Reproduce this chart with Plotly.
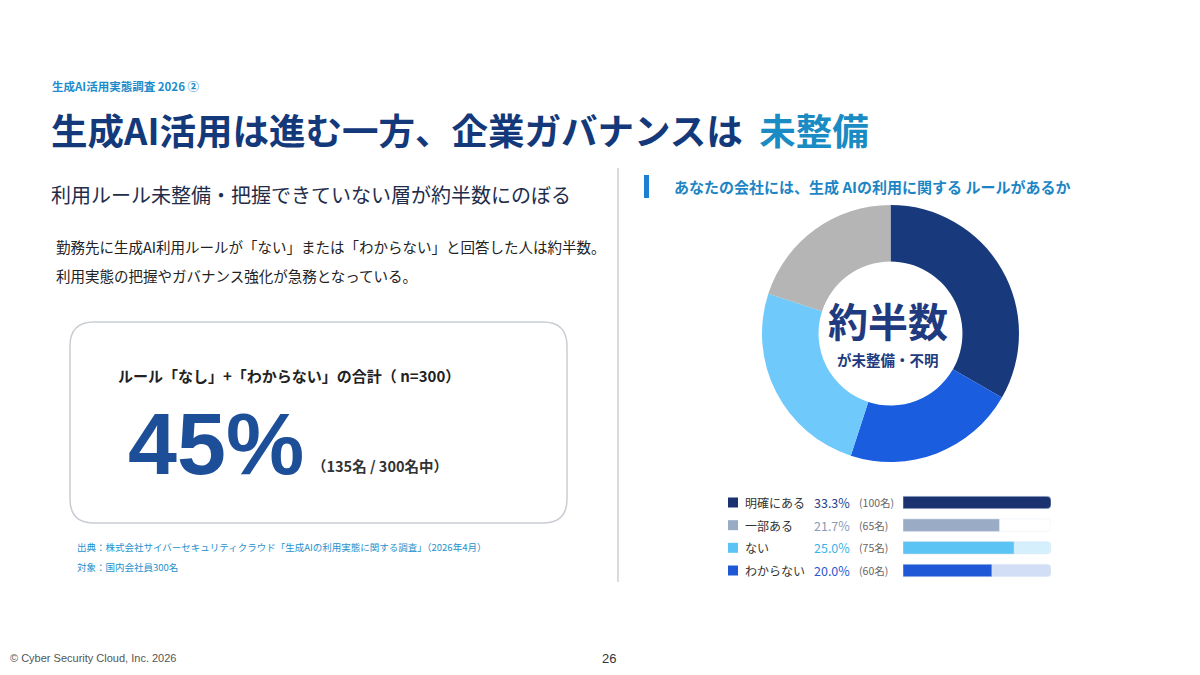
import plotly.graph_objects as go

# page body has an 8px margin, so the figure is 8px smaller and coordinates are shifted
OFF = 8
W, H = 1200 - OFF, 675 - OFF

# --- data ---
labels = ["明確にある", "一部ある", "ない", "わからない"]
pct = [33.3, 21.7, 25.0, 20.0]
counts = [100, 65, 75, 60]
pct_text = ["33.3%", "21.7%", "25.0%", "20.0%"]
count_text = ["(100名)", "(65名)", "(75名)", "(60名)"]

donut_colors = ["#183a7c", "#1a5ddf", "#6fc9fa", "#b5b5b5"]
legend_colors = ["#1a3370", "#9aabc6", "#5bc4f4", "#1f58d6"]
track_colors = ["#dfe5f0", "rgba(0,0,0,0)", "#d5effc", "#d2def5"]
pct_colors = ["#2b3f8c", "#8d9bb5", "#36b4ea", "#2b59d0"]

total_pct = 45
total_n = 135
n = 300

JP = "Noto Sans CJK JP"
AR = "Liberation Sans, Arial"


def px(x):
    return (x - OFF) / W


def py(y):
    return 1 - (y - OFF) / H


fig = go.Figure()

# donut
fig.add_trace(go.Pie(
    values=pct, labels=labels, sort=False, direction="clockwise", rotation=0,
    hole=0.56, marker=dict(colors=donut_colors, line=dict(width=0)),
    textinfo="none", hoverinfo="label+percent", showlegend=False,
    domain=dict(x=[px(762), px(1019)], y=[py(462), py(205)]),
))

# legend bars: track + value
track = [max(pct)] * len(pct)
fig.add_trace(go.Bar(
    x=track, y=labels, orientation="h", marker=dict(color=track_colors, cornerradius=4),
    width=0.55, hoverinfo="skip", showlegend=False,
))
fig.add_trace(go.Bar(
    x=pct, y=labels, orientation="h", marker=dict(color=legend_colors, cornerradius=4),
    width=0.55, showlegend=False,
))
# legend squares
fig.add_trace(go.Scatter(
    x=[0.5] * len(labels), y=labels, xaxis="x2", mode="markers",
    marker=dict(symbol="square", size=10, color=legend_colors), hoverinfo="skip", showlegend=False,
))

ann = []


def text(x, y, s, size, color, font=JP, xanchor="left", bold=False, **kw):
    if bold:
        s = "<b>" + s + "</b>"
    ann.append(dict(x=px(x), y=py(y), xref="paper", yref="paper", text=s, showarrow=False,
                    xanchor=xanchor, yanchor="middle", font=dict(family=font, size=size, color=color), **kw))


text(50, 86, "生成AI活用実態調査 2026 ②", 11.5, "#1e8ccc", bold=True)
text(49, 129, "生成AI活用は進む一方、企業ガバナンスは  <span style='color:#1a8cc3'>未整備</span>",
     36.5, "#13397a", bold=True)
text(49, 194, "利用ルール未整備・把握できていない層が約半数にのぼる", 20, "#1f2d4a")
text(54, 246, "勤務先に生成AI利用ルールが「ない」または「わからない」と回答した人は約半数。", 14.5, "#222222")
text(54, 275, "利用実態の把握やガバナンス強化が急務となっている。", 14.5, "#222222")

text(116, 375, f"ルール「なし」+「わからない」の合計（ n={n}）", 15, "#222222", bold=True)
text(126, 443, f"{total_pct}%", 88, "#1d4f99", font=AR, bold=True)
text(310, 465, f"（{total_n}名 / {n}名中）", 14.5, "#333333", bold=True)

text(75, 547, "出典：株式会社サイバーセキュリティクラウド「生成AIの利用実態に関する調査」（2026年4月）", 9.5, "#2591cc")
text(75, 567, f"対象：国内会社員{n}名", 9.5, "#2591cc")

text(672, 187, "あなたの会社には、生成 AIの利用に関する ルールがあるか", 15, "#1d85c4", bold=True)
text(888, 320, "約半数", 40, "#1f3a7e", xanchor="center", bold=True)
text(888, 359, "が未整備・不明", 14.5, "#1f3a7e", xanchor="center", bold=True)

text(8, 658, "© Cyber Security Cloud, Inc. 2026", 11, "#555555", font=AR)
text(609, 658, "26", 13, "#333333", font=AR, xanchor="center")

for lab, pt, ct, pc in zip(labels, pct_text, count_text, pct_colors):
    ann.append(dict(x=px(743), y=lab, xref="paper", yref="y", text=lab, showarrow=False, xanchor="left",
                    font=dict(family=JP, size=12, color="#333333")))
    ann.append(dict(x=px(812), y=lab, xref="paper", yref="y", text=pt, showarrow=False, xanchor="left",
                    font=dict(family=JP, size=12.5, color=pc)))
    ann.append(dict(x=px(857), y=lab, xref="paper", yref="y", text=ct, showarrow=False, xanchor="left",
                    font=dict(family=JP, size=10.5, color="#666666")))

# rounded box path in paper coords
x0, x1, y0, y1, r = 70, 567, 322, 523, 24
rx, ry = r / W, r / H
X0, X1, Y0, Y1 = px(x0), px(x1), py(y1), py(y0)
box = (f"M {X0+rx},{Y0} L {X1-rx},{Y0} Q {X1},{Y0} {X1},{Y0+ry} L {X1},{Y1-ry} Q {X1},{Y1} {X1-rx},{Y1} "
       f"L {X0+rx},{Y1} Q {X0},{Y1} {X0},{Y1-ry} L {X0},{Y0+ry} Q {X0},{Y0} {X0+rx},{Y0} Z")

shapes = [
    dict(type="path", path=box, xref="paper", yref="paper", line=dict(color="#c9cdd3", width=1.5)),
    dict(type="line", xref="paper", yref="paper", x0=px(618), x1=px(618), y0=py(168), y1=py(582),
         line=dict(color="#cfcfcf", width=1.5)),
    dict(type="rect", xref="paper", yref="paper", x0=px(644), x1=px(649), y0=py(198), y1=py(175),
         fillcolor="#1b7fd4", line=dict(width=0)),
]

fig.update_layout(
    width=W, height=H, margin=dict(l=0, r=0, t=0, b=0),
    paper_bgcolor="white", plot_bgcolor="white",
    barmode="overlay",
    xaxis=dict(domain=[px(903), px(1051)], range=[0, max(pct)], visible=False, fixedrange=True),
    xaxis2=dict(domain=[px(727), px(739)], range=[0, 1], visible=False, anchor="y", fixedrange=True),
    yaxis=dict(domain=[py(582), py(491)], categoryorder="array", categoryarray=labels,
               autorange="reversed", visible=False, fixedrange=True),
    annotations=ann, shapes=shapes,
)

fig.write_html("out.html")
